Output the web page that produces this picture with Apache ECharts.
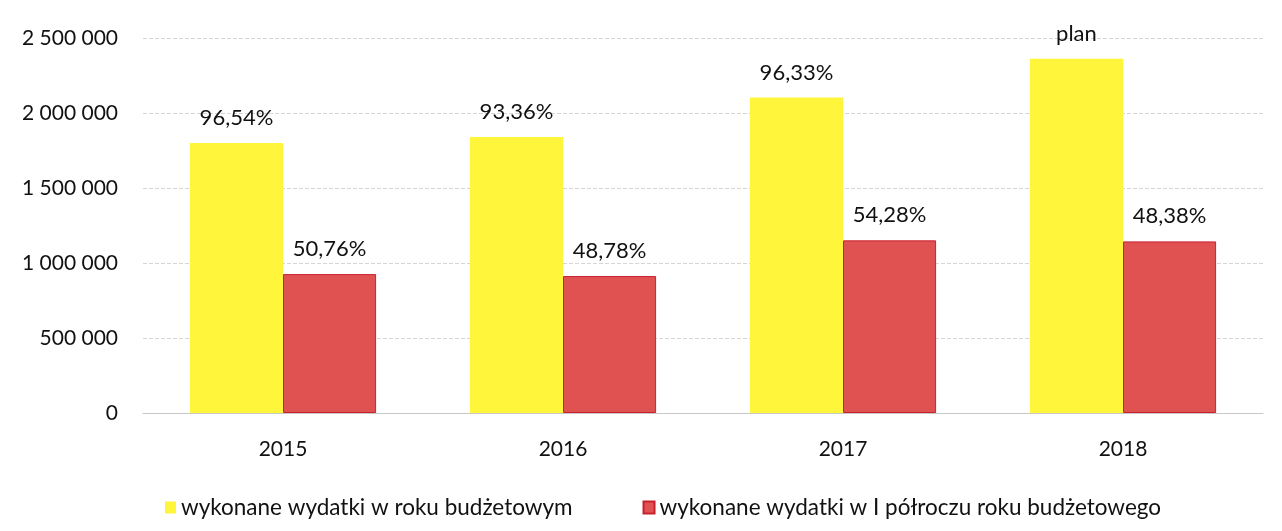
<!DOCTYPE html>
<html>
<head>
<meta charset="utf-8">
<script src="https://cdn.jsdelivr.net/npm/echarts@6/dist/echarts.min.js"></script>
<style>
html,body{margin:0;padding:0;background:#fff}
#Charts{width:1282px;height:531px}
</style>
</head>
<body>
<div id="Charts"></div>
<script>
// dane z wykresu
var years = ['2015', '2016', '2017', '2018']
var rokBudzetowy = [1800000, 1840000, 2103000, 2361000]
var polrocze = [926000, 913000, 1151000, 1144000]
var etykietyRok = ['96,54%', '93,36%', '96,33%', 'plan']
var etykietyPolrocze = ['50,76%', '48,78%', '54,28%', '48,38%']
var yTicks = ['0', '500 000', '1 000 000', '1 500 000', '2 000 000', '2 500 000']

var fontFam = 'Lato, "Open Sans", sans-serif'

var chart = echarts.init(document.getElementById('Charts'))

var option = {
	backgroundColor: '#FFFFFF',
	animation: false,
	textStyle: { fontFamily: fontFam },
	legend: {
		top: 491,
		left: 160,
		itemWidth: 11,
		itemHeight: 12,
		itemGap: 70,
		icon: 'rect',
		textStyle: { fontSize: 22.5, color: '#111', fontFamily: fontFam },
		data: ['wykonane wydatki w roku budżetowym', 'wykonane wydatki w I półroczu roku budżetowego']
	},
	grid: { left: 143, right: 19, top: 38, bottom: 118 },
	xAxis: {
		type: 'category',
		data: years,
		axisTick: { show: false },
		axisLine: { lineStyle: { color: '#c8c8c8' } },
		axisLabel: { fontSize: 21, color: '#111', margin: 26, fontFamily: fontFam }
	},
	yAxis: {
		type: 'value',
		min: 0,
		max: 2500000,
		interval: 500000,
		axisLine: { show: false },
		axisTick: { show: false },
		splitLine: { lineStyle: { color: '#d6d6d6', type: 'dashed' } },
		axisLabel: {
			fontSize: 21, color: '#111', margin: 25, fontFamily: fontFam,
			formatter: function(v) { return yTicks[Math.round(v / 500000)] }
		}
	},
	series: [
		{
			name: 'wykonane wydatki w roku budżetowym',
			type: 'bar',
			barGap: '0%',
			barCategoryGap: '33.5%',
			itemStyle: { color: '#FFF53A' },
			label: {
				show: true, position: 'top', distance: 14,
				fontSize: 22, color: '#111', fontFamily: fontFam,
				formatter: function(p) { return etykietyRok[p.dataIndex] }
			},
			data: rokBudzetowy
		},
		{
			name: 'wykonane wydatki w I półroczu roku budżetowego',
			type: 'bar',
			itemStyle: { color: '#E05252', borderColor: '#C8202E', borderWidth: 1 },
			label: {
				show: true, position: 'top', distance: 14,
				fontSize: 22, color: '#111', fontFamily: fontFam,
				formatter: function(p) { return etykietyPolrocze[p.dataIndex] }
			},
			data: polrocze
		}
	]
}

chart.setOption(option)
</script>
</body>
</html>
